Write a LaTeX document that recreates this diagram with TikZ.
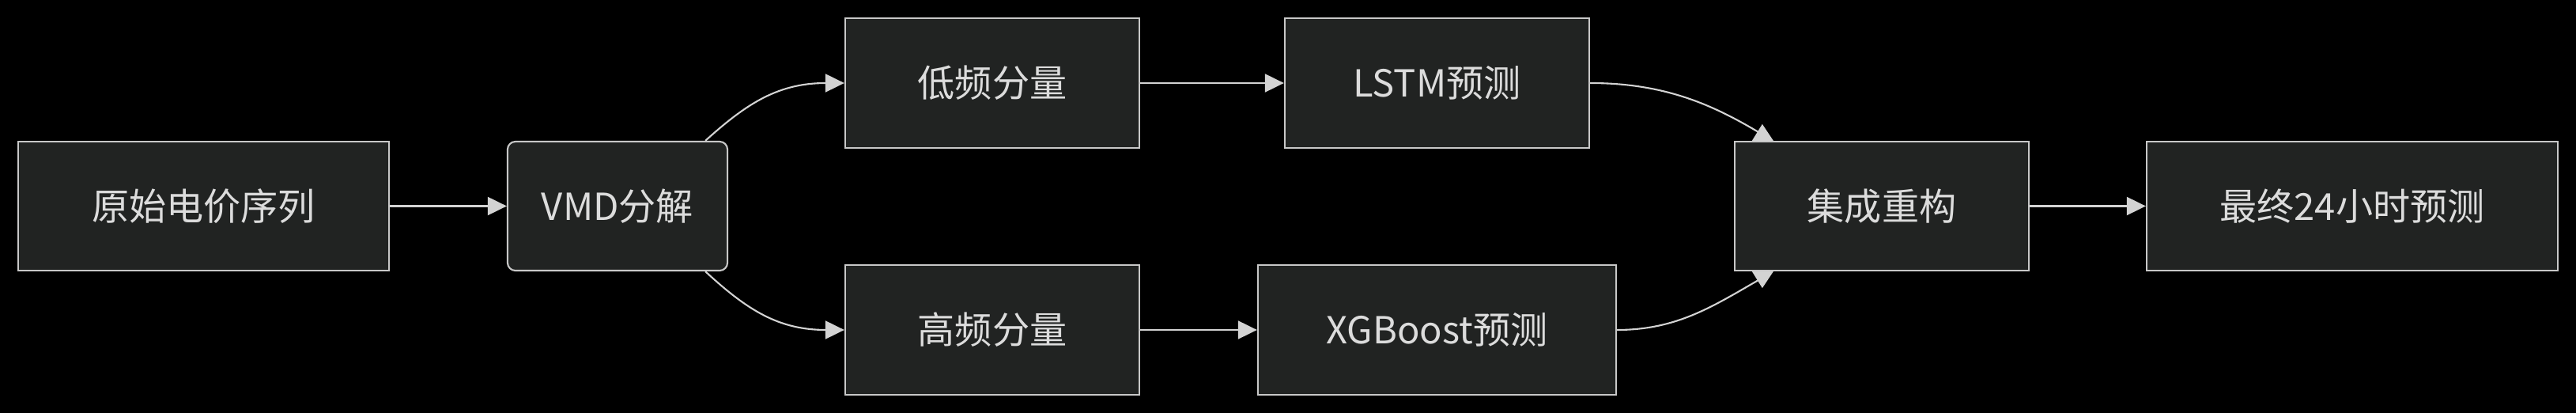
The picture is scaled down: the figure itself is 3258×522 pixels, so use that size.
\documentclass[tikz,border=0pt]{standalone}
\usepackage{fontspec}
\setmainfont{Noto Sans CJK SC}
\usetikzlibrary{arrows.meta,calc}
\definecolor{bg}{HTML}{000000}
\definecolor{nodefill}{HTML}{212322}
\definecolor{nodeline}{HTML}{C8C8C8}
\definecolor{txt}{HTML}{DCDCDC}
\definecolor{edge}{HTML}{D3D3D3}
\tikzset{
  box/.style={draw=nodeline, fill=nodefill, line width=0.6pt, text=txt,
    minimum height=1.63cm, inner sep=0pt, font=\fontsize{13.4pt}{16pt}\selectfont},
  rbox/.style={box, rounded corners=0.1cm},
  flow/.style={draw=edge, line width=0.6pt, -{Triangle[length=0.24cm,width=0.23cm]}},
  plainflow/.style={draw=edge, line width=0.6pt},
  headtip/.style={fill=edge}
}
\begin{document}
\begin{tikzpicture}[x=0.01cm,y=-0.01cm]
\fill[bg] (0,0) rectangle (3258,522);
\useasboundingbox (0,0) rectangle (3258,522);
\node[box, minimum width=4.69cm] (src) at (257.5,260.5) {原始电价序列};
\node[rbox, minimum width=2.78cm] (vmd) at (781,260.5) {VMD分解};
\node[box, minimum width=3.72cm, minimum height=1.64cm] (low) at (1255,105) {低频分量};
\node[box, minimum width=3.85cm, minimum height=1.64cm] (lstm) at (1817.5,105) {LSTM预测};
\node[box, minimum width=3.72cm, minimum height=1.64cm] (high) at (1255,417) {高频分量};
\node[box, minimum width=4.53cm, minimum height=1.64cm] (xgb) at (1817.5,417) {XGBoost预测};
\node[box, minimum width=3.72cm] (merge) at (2380,260.5) {集成重构};
\node[box, minimum width=5.20cm] (final) at (2975,260.5) {最终24小时预测};

\draw[flow] (src) -- (vmd);
\draw[flow] ([xshift=-0.29cm]vmd.north east) .. controls (945,130) and (985,105) .. (low.west);
\draw[flow] ([xshift=-0.29cm]vmd.south east) .. controls (945,392) and (985,417) .. (high.west);
\draw[flow] (low) -- (lstm);
\draw[flow] (high) -- (xgb);
\draw[plainflow] (lstm.east) .. controls (2105,105) and (2165,132) .. ($(merge.north west)+(31,-11)$);
\fill[headtip] ($(merge.north west)+(23,0)$) -- ($(merge.north west)+(36,-21)$) -- ($(merge.north west)+(50,0)$) -- cycle;
\draw[plainflow] (xgb.east) .. controls (2120,417) and (2165,388) .. ($(merge.south west)+(31,11)$);
\fill[headtip] ($(merge.south west)+(23,0)$) -- ($(merge.south west)+(36,21)$) -- ($(merge.south west)+(50,0)$) -- cycle;
\draw[flow] (merge) -- (final);
\end{tikzpicture}
\end{document}
